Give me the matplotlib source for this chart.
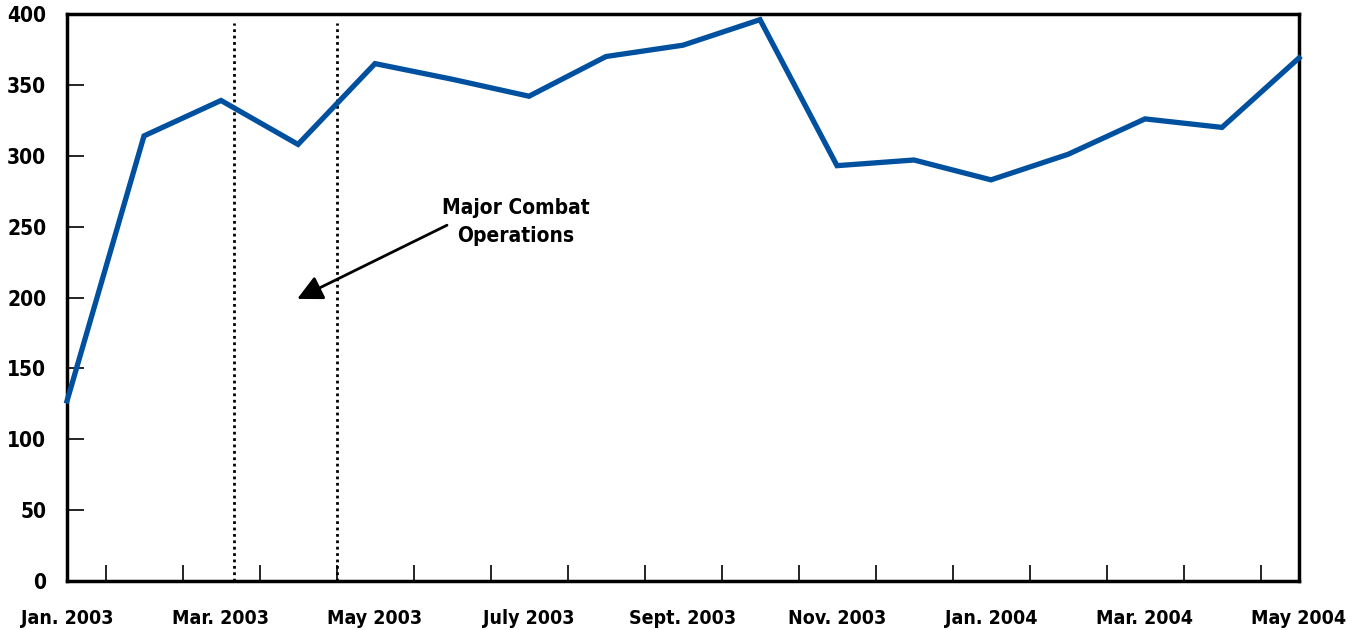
import numpy as np
import matplotlib.pyplot as plt

# Monthly values, Jan. 2003 - May 2004
months = ['Jan. 2003', 'Feb. 2003', 'Mar. 2003', 'Apr. 2003', 'May 2003', 'June 2003',
          'July 2003', 'Aug. 2003', 'Sept. 2003', 'Oct. 2003', 'Nov. 2003', 'Dec. 2003',
          'Jan. 2004', 'Feb. 2004', 'Mar. 2004', 'Apr. 2004', 'May 2004']
values = [127, 314, 339, 308, 365, 354, 342, 370, 378, 396, 293, 297, 283, 301, 326, 320, 369]
combat_bounds = [2.17, 3.5]   # in month-index units
y_ticks = [0, 50, 100, 150, 200, 250, 300, 350, 400]

plt.rcParams['font.family'] = ['DejaVu Sans']
plt.rcParams['font.stretch'] = 'condensed'
plt.rcParams['font.weight'] = 'bold'

fig = plt.figure(figsize=(13.59, 6.3), dpi=100)
ax = fig.add_axes([67/1359, 49/630, (1299-67)/1359, (581-14)/630])

x = np.arange(len(months))
ax.plot(x, values, color='#0050a0', lw=3.8, solid_joinstyle='miter', clip_on=False, zorder=3)

# dotted markers for start / end of major combat
for b in combat_bounds:
    ax.plot([b, b], [0, 394], color='black', lw=2, ls=(0, (1, 1.3)), zorder=2)

ax.text(5.83, 253, 'Major Combat\nOperations', ha='center', va='center',
        fontsize=15, fontweight='bold', linespacing=1.5)
ax.annotate('', xy=(2.99, 199), xytext=(4.935, 251),
            arrowprops=dict(arrowstyle='-|>', color='black', lw=2, mutation_scale=38,
                            shrinkA=0, shrinkB=0))

ax.set_xlim(0, len(months) - 1)
ax.set_ylim(0, 400)
ax.set_xticks(x[::2])
ax.set_xticklabels(months[::2], fontsize=14, fontweight='bold')
ax.set_xticks(x[:-1] + 0.5, minor=True)
ax.set_yticks(y_ticks)
ax.set_yticklabels([str(v) for v in y_ticks], fontsize=15, fontweight='bold')
ax.tick_params(axis='x', which='major', length=0, pad=20)
ax.tick_params(axis='x', which='minor', direction='in', length=11.5, width=1.2)
ax.tick_params(axis='y', direction='in', length=12, width=1.2, pad=15)
for s in ax.spines.values():
    s.set_linewidth(2.5)

fig.savefig('out.png', dpi=100)
